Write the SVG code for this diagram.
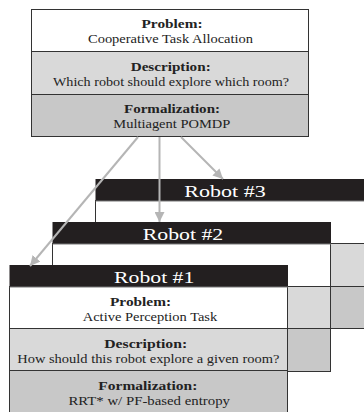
<svg xmlns="http://www.w3.org/2000/svg" width="364" height="412" viewBox="0 0 364 412">
<defs>
<style>
.ln{stroke:#333;stroke-width:1;fill:none}
.w{fill:#ffffff}
.l{fill:#d9d9d9}
.d{fill:#c8c8c8}
.hd{fill:#231f20}
.b{font-family:"Liberation Serif","DejaVu Serif",serif;font-weight:bold;font-size:11.5px;fill:#222;text-anchor:middle}
.r{font-family:"Liberation Serif","DejaVu Serif",serif;font-size:11.5px;fill:#222;text-anchor:middle}
.h{font-family:"Liberation Serif","DejaVu Serif",serif;font-size:17.5px;fill:#fff;text-anchor:middle}
.ar{stroke:#b5b5b5;stroke-width:2;fill:none}
</style>
<marker id="ah" markerUnits="userSpaceOnUse" markerWidth="12" markerHeight="10" refX="10" refY="5" orient="auto">
<path d="M0,0 L10,5 L0,10 Z" fill="#b5b5b5"/>
</marker>
</defs>
<rect width="364" height="412" fill="#fff"/>

<g id="top">
<rect class="w" x="31.5" y="9.5" width="277" height="42"/>
<rect class="l" x="31.5" y="51.5" width="277" height="43"/>
<rect class="d" x="31.5" y="94.5" width="277" height="42"/>
<rect class="ln" x="31.5" y="9.5" width="277" height="127"/>
<line class="ln" x1="31.5" y1="51.5" x2="308.5" y2="51.5"/>
<line class="ln" x1="31.5" y1="94.5" x2="308.5" y2="94.5"/>
<text class="b" x="172" y="28.3" textLength="61" lengthAdjust="spacingAndGlyphs">Problem:</text>
<text class="r" x="170.5" y="43.3" textLength="165" lengthAdjust="spacingAndGlyphs">Cooperative Task Allocation</text>
<text class="b" x="170.7" y="71" textLength="80" lengthAdjust="spacingAndGlyphs">Description:</text>
<text class="r" x="171" y="86" textLength="236" lengthAdjust="spacingAndGlyphs">Which robot should explore which room?</text>
<text class="b" x="172" y="113.3" textLength="96" lengthAdjust="spacingAndGlyphs">Formalization:</text>
<text class="r" x="171.8" y="128.3" textLength="117" lengthAdjust="spacingAndGlyphs">Multiagent POMDP</text>
</g>

<g id="robot3">
<rect class="w" x="95.5" y="200.5" width="280" height="43"/>
<rect class="l" x="95.5" y="243.5" width="280" height="43"/>
<rect class="d" x="95.5" y="286.5" width="280" height="42"/>
<rect class="ln" x="95.5" y="200.5" width="280" height="128"/>
<line class="ln" x1="95.5" y1="243.5" x2="375" y2="243.5"/>
<line class="ln" x1="95.5" y1="286.5" x2="375" y2="286.5"/>
<rect class="hd" x="95.5" y="179" width="280" height="22"/>
<line x1="95.5" y1="201" x2="375" y2="201" stroke="#777" stroke-width="1"/>
<text class="h" x="225" y="197.3" textLength="81.5" lengthAdjust="spacingAndGlyphs">Robot #3</text>
</g>

<g id="robot2">
<rect class="w" x="52.5" y="243.5" width="278" height="43"/>
<rect class="l" x="52.5" y="286.5" width="278" height="42"/>
<rect class="d" x="52.5" y="328.5" width="278" height="43"/>
<rect class="ln" x="52.5" y="243.5" width="278" height="128"/>
<line class="ln" x1="52.5" y1="286.5" x2="330.5" y2="286.5"/>
<line class="ln" x1="52.5" y1="328.5" x2="330.5" y2="328.5"/>
<rect class="hd" x="52.5" y="222" width="278.5" height="22"/>
<line x1="52.5" y1="244" x2="331" y2="244" stroke="#777" stroke-width="1"/>
<text class="h" x="183" y="240.3" textLength="80.6" lengthAdjust="spacingAndGlyphs">Robot #2</text>
</g>

<g id="robot1">
<rect class="w" x="9.5" y="286.5" width="278" height="42"/>
<rect class="l" x="9.5" y="328.5" width="278" height="42"/>
<rect class="d" x="9.5" y="370.5" width="278" height="44"/>
<rect class="ln" x="9.5" y="286.5" width="278" height="128"/>
<line class="ln" x1="9.5" y1="328.5" x2="287.5" y2="328.5"/>
<line class="ln" x1="9.5" y1="370.5" x2="287.5" y2="370.5"/>
<rect class="hd" x="9.5" y="265" width="278.5" height="22"/>
<line x1="9.5" y1="287" x2="288" y2="287" stroke="#777" stroke-width="1"/>
<text class="h" x="154.2" y="283.3" textLength="80.3" lengthAdjust="spacingAndGlyphs">Robot #1</text>
<text class="b" x="140.5" y="305.5" textLength="61" lengthAdjust="spacingAndGlyphs">Problem:</text>
<text class="r" x="150" y="320.5" textLength="134.5" lengthAdjust="spacingAndGlyphs">Active Perception Task</text>
<text class="b" x="145.7" y="348" textLength="83" lengthAdjust="spacingAndGlyphs">Description:</text>
<text class="r" x="148.3" y="363" textLength="262" lengthAdjust="spacingAndGlyphs">How should this robot explore a given room?</text>
<text class="b" x="147.8" y="390" textLength="99" lengthAdjust="spacingAndGlyphs">Formalization:</text>
<text class="r" x="149.2" y="405" textLength="161.5" lengthAdjust="spacingAndGlyphs">RRT* w/ PF-based entropy</text>
</g>

<g id="connectors">
<line class="ar" x1="138" y1="137" x2="30" y2="266" marker-end="url(#ah)"/>
<line class="ar" x1="159.5" y1="137" x2="159.5" y2="222" marker-end="url(#ah)"/>
<line class="ar" x1="181" y1="137" x2="223" y2="179" marker-end="url(#ah)"/>
</g>
</svg>
